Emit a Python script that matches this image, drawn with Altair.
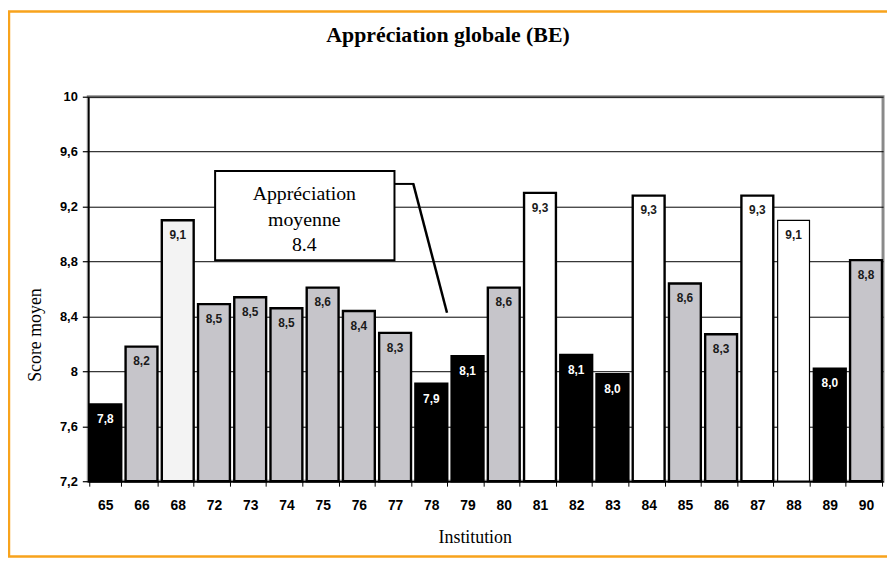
import altair as alt
import pandas as pd

# ---- data ----
institutions = ["65", "66", "68", "72", "73", "74", "75", "76", "77", "78", "79",
                "80", "81", "82", "83", "84", "85", "86", "87", "88", "89", "90"]
scores = [7.76, 8.18, 9.10, 8.49, 8.54, 8.46, 8.61, 8.44, 8.28, 7.91, 8.11,
          8.61, 9.30, 8.12, 7.98, 9.28, 8.64, 8.27, 9.28, 9.10, 8.02, 8.81]
groups = ["inférieur", "moyen", "supérieur b", "moyen", "moyen", "moyen", "moyen", "moyen", "moyen",
          "inférieur", "inférieur", "moyen", "supérieur", "inférieur", "inférieur", "supérieur",
          "moyen", "moyen", "supérieur", "supérieur", "inférieur", "moyen"]
y_ticks = [7.2, 7.6, 8.0, 8.4, 8.8, 9.2, 9.6, 10.0]
y_min, y_max = 7.2, 10.0
chart_title = "Appréciation globale (BE)"
annotation_lines = ["Appréciation", "moyenne", "8.4"]

group_domain = ["inférieur", "moyen", "supérieur", "supérieur b"]
group_fill = ["#000000", "#c6c5ca", "#ffffff", "#f3f3f3"]
group_text = ["#ffffff", "#1a1a1a", "#1a1a1a", "#1a1a1a"]

df = pd.DataFrame({"institution": institutions, "score": scores, "groupe": groups})
df["etiquette"] = [f"{v:.1f}".replace(".", ",") for v in scores]

W, H = 802, 388
SERIF = "Liberation Serif"
SANS_NARROW = "Liberation Sans Narrow, Liberation Sans, Arial"

x_enc = alt.X(
    "institution:N", sort=institutions,
    scale=alt.Scale(paddingInner=0.12, paddingOuter=0.03),
    axis=alt.Axis(
        title="Institution", labelAngle=0, labelFont=SANS_NARROW, labelFontSize=14,
        labelFontWeight="bold", labelColor="black", tickBand="extent", tickColor="black",
        tickSize=5, tickWidth=1, domainColor="black", domainWidth=1.5, labelPadding=13,
        titleFont=SERIF, titleFontSize=18, titleFontWeight="normal", titleColor="black",
        titleX=390, titleY=57, titleBaseline="middle", titleAlign="center", grid=False,
        zindex=1,
    ),
)
y_enc = alt.Y(
    "score:Q",
    scale=alt.Scale(domain=[y_min, y_max], zero=False, nice=False),
    axis=alt.Axis(
        title="Score moyen", values=y_ticks,
        labelExpr="replace(format(datum.value, '.1~f'), '.', ',')",
        labelFont="Liberation Sans, Arial", labelFontSize=13, labelFontWeight="bold",
        labelColor="black", tickColor="black", tickSize=6, tickWidth=1.2, labelPadding=5,
        domainColor="black", domainWidth=1.5, grid=True, gridColor="black", gridWidth=1,
        gridOpacity=1, titleFont=SERIF, titleFontSize=18, titleFontWeight="normal",
        titleColor="black", titleX=-53, titleY=240, titleBaseline="middle", titleAlign="center",
    ),
)

bars = alt.Chart(df).mark_bar(stroke="black").encode(
    x=x_enc, y=y_enc, y2=alt.datum(y_min),
    fill=alt.Fill("groupe:N", scale=alt.Scale(domain=group_domain, range=group_fill), legend=None),
    strokeWidth=alt.condition(alt.datum.institution == "88", alt.value(1.2), alt.value(2.4)),
)

labels = alt.Chart(df).mark_text(
    font=SANS_NARROW, fontSize=12, fontWeight="bold", baseline="middle", dy=15
).encode(
    x=alt.X("institution:N", sort=institutions),
    y=alt.Y("score:Q"),
    text="etiquette:N",
    color=alt.Color("groupe:N", scale=alt.Scale(domain=group_domain, range=group_text), legend=None),
)

one = pd.DataFrame({"t": [chart_title], "a": ["\n".join(annotation_lines)]})

title_mark = alt.Chart(one).mark_text(
    font=SERIF, fontSize=22, fontWeight="bold", baseline="alphabetic", align="center", color="black"
).encode(text="t:N", x=alt.value(363), y=alt.value(-55))

frame = alt.Chart(one).mark_rect(
    fill="white", fillOpacity=0, stroke="#f8a31c", strokeWidth=2.5
).encode(x=alt.value(-80), x2=alt.value(W + 20), y=alt.value(-86), y2=alt.value(464))

box = alt.Chart(one).mark_rect(fill="white", stroke="black", strokeWidth=2).encode(
    x=alt.value(128), x2=alt.value(309), y=alt.value(75), y2=alt.value(165)
)
box_text = alt.Chart(one).mark_text(
    font=SERIF, fontSize=20, lineBreak="\n", lineHeight=26, align="center",
    baseline="middle", color="black"
).encode(text="a:N", x=alt.value(218), y=alt.value(98))

lead1 = alt.Chart(one).mark_rule(color="black", strokeWidth=2).encode(
    x=alt.value(309), x2=alt.value(329), y=alt.value(88)
)
lead2 = alt.Chart(one).mark_rule(color="black", strokeWidth=2.5).encode(
    x=alt.value(328), x2=alt.value(362), y=alt.value(88), y2=alt.value(218)
)

chart = alt.layer(frame, bars, labels, box, box_text, lead1, lead2, title_mark).properties(
    width=W, height=H,
    autosize=alt.AutoSizeParams(type="none"),
    padding={"left": 81, "top": 87, "right": 4, "bottom": 80},
    background="white",
).configure_view(stroke="#8a8a8a", strokeWidth=3)

chart.save("out.html", embed_options={"renderer": "svg", "actions": False})
